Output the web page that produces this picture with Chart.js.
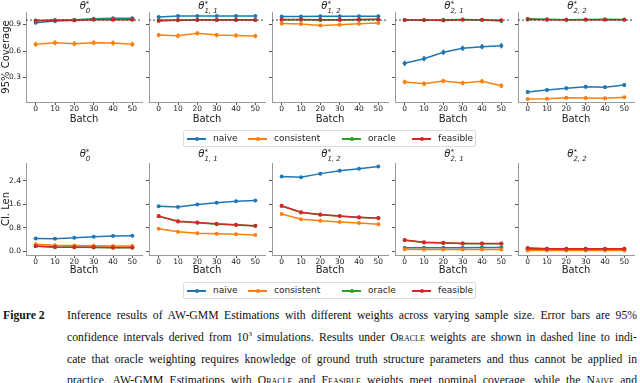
<!DOCTYPE html>
<html>
<head>
<meta charset="utf-8">
<script src="https://cdn.jsdelivr.net/npm/chart.js@4.4.1/dist/chart.umd.min.js"></script>
<style>
  body { margin: 0; width: 640px; height: 383px; overflow: hidden; background: #fff; position: relative; font-family: 'DejaVu Sans', sans-serif; color: #222; }
  canvas.pl { position: absolute; }
  .ttl { position: absolute; transform: translateX(-50%); font-size: 10px; line-height: 12px; white-space: nowrap; }
  .ttl i { font-family: 'DejaVu Sans'; }
  .ss { display: inline-block; vertical-align: -4px; font-size: 7px; line-height: 7px; font-style: italic; }
  .ss span { display: block; }
  .legend { position: absolute; left: 183px; width: 291px; height: 15px; border: 1px solid #ddd; border-radius: 2px; font-size: 9px; }
  .item { position: absolute; top: 0; height: 15px; line-height: 15px; white-space: nowrap; }
  .sw { position: absolute; top: 7px; width: 19px; height: 1.5px; }
  .sw b { position: absolute; left: 7.5px; top: -1.5px; width: 4px; height: 4px; border-radius: 2px; background: inherit; }
  .item span.t { position: absolute; left: 26px; top: 0; }
  .cap { position: absolute; left: 0; top: 0; font-family: 'Liberation Serif', serif; font-size: 11.7px; color: #111; }
  .fig { position: absolute; left: 3px; font-weight: bold; white-space: nowrap; }
  .ln { position: absolute; left: 67px; width: 570px; text-align: justify; text-align-last: justify; }
  .sc { font-variant: small-caps; }
</style>
</head>
<body>
<script>
// data
const batches = [0, 10, 20, 30, 40, 50];
const panelSubs = ['0', '1, 1', '1, 2', '2, 1', '2, 2'];
const nominal = 0.95;

const covTicks = [0.3, 0.6, 0.9];
const lenTicks = [0.0, 0.8, 1.6, 2.4];

// 95% coverage, one row per panel
const covNaive = [
  [0.92, 0.94, 0.95, 0.966, 0.97, 0.97],
  [0.985, 0.997, 0.998, 0.998, 0.998, 0.998],
  [0.99, 0.99, 0.995, 0.995, 0.995, 0.995],
  [0.46, 0.513, 0.585, 0.63, 0.649, 0.66],
  [0.136, 0.158, 0.178, 0.196, 0.19, 0.215]
];
const covConsistent = [
  [0.676, 0.694, 0.683, 0.694, 0.69, 0.676],
  [0.78, 0.773, 0.80, 0.78, 0.775, 0.77],
  [0.913, 0.905, 0.89, 0.898, 0.91, 0.917],
  [0.249, 0.23, 0.26, 0.237, 0.257, 0.207],
  [0.056, 0.058, 0.071, 0.068, 0.064, 0.075]
];
const covOracle = [
  [0.945, 0.95, 0.955, 0.96, 0.96, 0.96],
  [0.95, 0.952, 0.955, 0.952, 0.953, 0.952],
  [0.955, 0.953, 0.95, 0.952, 0.955, 0.957],
  [0.95, 0.948, 0.955, 0.958, 0.952, 0.94],
  [0.965, 0.96, 0.955, 0.957, 0.96, 0.958]
];
const covFeasible = [
  [0.943, 0.945, 0.945, 0.955, 0.955, 0.955],
  [0.94, 0.948, 0.95, 0.95, 0.95, 0.95],
  [0.958, 0.957, 0.955, 0.955, 0.957, 0.96],
  [0.95, 0.95, 0.945, 0.955, 0.955, 0.948],
  [0.958, 0.955, 0.953, 0.955, 0.955, 0.955]
];
// half widths of the 95% error bars, one per panel
const covNaiveErr = [0.014, 0.008, 0.008, 0.03, 0.022];
const covConsistentErr = [0.028, 0.025, 0.017, 0.026, 0.014];
const covOracleErr = [0.012, 0.012, 0.012, 0.012, 0.012];
const covFeasibleErr = [0.012, 0.012, 0.012, 0.012, 0.012];

// CI length
const lenNaive = [
  [0.43, 0.42, 0.455, 0.49, 0.51, 0.52],
  [1.535, 1.51, 1.59, 1.65, 1.70, 1.73],
  [2.55, 2.525, 2.65, 2.75, 2.82, 2.89],
  [0.115, 0.11, 0.11, 0.11, 0.12, 0.12],
  [0.06, 0.055, 0.055, 0.055, 0.055, 0.055]
];
const lenConsistent = [
  [0.23, 0.20, 0.19, 0.18, 0.17, 0.17],
  [0.76, 0.66, 0.61, 0.59, 0.57, 0.55],
  [1.27, 1.09, 1.035, 0.99, 0.955, 0.92],
  [0.06, 0.05, 0.05, 0.05, 0.05, 0.05],
  [0.02, 0.015, 0.015, 0.015, 0.015, 0.015]
];
const lenOracle = [
  [0.16, 0.13, 0.125, 0.12, 0.115, 0.115],
  [1.19, 1.01, 0.97, 0.92, 0.89, 0.86],
  [1.54, 1.32, 1.24, 1.19, 1.15, 1.12],
  [0.37, 0.295, 0.275, 0.26, 0.25, 0.25],
  [0.095, 0.078, 0.073, 0.073, 0.073, 0.073]
];
const lenFeasible = [
  [0.17, 0.14, 0.13, 0.13, 0.12, 0.12],
  [1.195, 1.02, 0.98, 0.93, 0.90, 0.865],
  [1.55, 1.33, 1.25, 1.195, 1.16, 1.126],
  [0.375, 0.30, 0.28, 0.26, 0.255, 0.255],
  [0.10, 0.08, 0.075, 0.075, 0.075, 0.075]
];

const seriesNames = ['naive', 'consistent', 'oracle', 'feasible'];
const seriesColors = ['#1f77b4', '#ff7f0e', '#2ca02c', '#d62728'];

// layout of the grid (page px)
const plotLefts = [26, 149, 272, 395, 518];
const plotW = 118;
const axisW = 26;

const errBars = {
  id: 'errBars',
  afterDatasetDraw(chart, args) {
    const ds = chart.data.datasets[args.index];
    if (!ds.err) return;
    const ctx = chart.ctx, x = chart.scales.x, y = chart.scales.y;
    ctx.save();
    ctx.strokeStyle = ds.borderColor;
    ctx.lineWidth = 1.5;
    ds.data.forEach(p => {
      const px = x.getPixelForValue(p.x);
      ctx.beginPath();
      ctx.moveTo(px, y.getPixelForValue(p.y - ds.err));
      ctx.lineTo(px, y.getPixelForValue(p.y + ds.err));
      ctx.stroke();
    });
    ctx.restore();
  }
};

const refLine = {
  id: 'refLine',
  afterDatasetsDraw(chart, args, opts) {
    if (opts.value == null) return;
    const ctx = chart.ctx, a = chart.chartArea;
    const py = chart.scales.y.getPixelForValue(opts.value);
    ctx.save();
    ctx.strokeStyle = '#444';
    ctx.lineWidth = 1;
    ctx.setLineDash([2, 2]);
    ctx.beginPath();
    ctx.moveTo(a.left, py);
    ctx.lineTo(a.right, py);
    ctx.stroke();
    ctx.restore();
  }
};

function addTitle(sub, cx, top) {
  const d = document.createElement('div');
  d.className = 'ttl';
  d.style.left = cx + 'px';
  d.style.top = top + 'px';
  d.innerHTML = '<i>θ</i><span class="ss"><span>*</span><span>' + sub + '</span></span>';
  document.body.appendChild(d);
}

function makePanel(row, i) {
  const top = row === 0 ? 0 : 150;
  const padTop = row === 0 ? 12 : 13;
  const h = row === 0 ? 125 : 126;
  const xH = row === 0 ? 23 : 21;
  const vals = row === 0
    ? [covNaive, covConsistent, covOracle, covFeasible]
    : [lenNaive, lenConsistent, lenOracle, lenFeasible];
  const errs = [covNaiveErr, covConsistentErr, covOracleErr, covFeasibleErr];

  const cv = document.createElement('canvas');
  cv.className = 'pl';
  cv.width = axisW + plotW + 2;
  cv.height = h;
  cv.style.left = (plotLefts[i] - axisW) + 'px';
  cv.style.top = top + 'px';
  document.body.appendChild(cv);

  addTitle(panelSubs[i], plotLefts[i] + plotW / 2, row === 0 ? 0 : 148);

  const datasets = seriesNames.map((name, k) => ({
    label: name,
    data: batches.map((b, j) => ({ x: b, y: vals[k][i][j] })),
    borderColor: seriesColors[k],
    backgroundColor: seriesColors[k],
    borderWidth: 1.5,
    pointRadius: 2,
    pointBorderWidth: 0,
    tension: 0,
    order: 4 - k,
    err: row === 0 ? errs[k][i] : null
  }));

  const tickFont = { family: 'DejaVu Sans', size: 7.5 };
  const labFont = { family: 'DejaVu Sans', size: 10 };

  new Chart(cv.getContext('2d'), {
    type: 'line',
    data: { datasets },
    options: {
      responsive: false,
      animation: false,
      devicePixelRatio: 1,
      layout: { padding: { top: padTop, right: 2, left: 0, bottom: 0 } },
      plugins: {
        legend: { display: false },
        tooltip: { enabled: false },
        refLine: { value: row === 0 ? nominal : null }
      },
      scales: {
        x: {
          type: 'linear',
          min: -5, max: 55,
          afterBuildTicks: s => { s.ticks = batches.map(v => ({ value: v })); },
          afterFit: s => { s.height = xH; },
          grid: { drawOnChartArea: false, tickLength: 3, color: '#555' },
          border: { color: '#999', width: 1 },
          ticks: { font: tickFont, color: '#222', padding: 0, maxRotation: 0 },
          title: { display: true, text: 'Batch', font: labFont, color: '#222', padding: 0 }
        },
        y: {
          type: 'linear',
          min: row === 0 ? 0.022 : -0.137,
          max: row === 0 ? 1.042 : 3.014,
          afterBuildTicks: s => { s.ticks = (row === 0 ? covTicks : lenTicks).map(v => ({ value: v })); },
          afterFit: s => { s.width = axisW; },
          grid: { drawOnChartArea: false, tickLength: 3, color: '#555' },
          border: { color: '#999', width: 1 },
          ticks: {
            font: tickFont, color: '#222', padding: 2,
            callback: v => i === 0 ? v.toFixed(1) : ''
          },
          title: {
            display: i === 0,
            text: row === 0 ? '95% Coverage' : 'CI. Len',
            font: labFont, color: '#222', padding: 0
          }
        }
      }
    },
    plugins: [errBars, refLine]
  });
}

for (let r = 0; r < 2; r++) for (let i = 0; i < 5; i++) makePanel(r, i);

// legends
const legendItemX = [3, 64, 158, 228];
[130, 282].forEach(t => {
  const lg = document.createElement('div');
  lg.className = 'legend';
  lg.style.top = t + 'px';
  seriesNames.forEach((name, k) => {
    const it = document.createElement('div');
    it.className = 'item';
    it.style.left = legendItemX[k] + 'px';
    it.innerHTML = '<span class="sw" style="background:' + seriesColors[k] + '"><b></b></span><span class="t">' + name + '</span>';
    lg.appendChild(it);
  });
  document.body.appendChild(lg);
});
</script>
<div class="cap">
  <div class="fig" style="top:309px">Figure 2</div>
  <div class="ln" style="top:309px">Inference results of AW-GMM Estimations with different weights across varying sample size. Error bars are 95%</div>
  <div class="ln" style="top:331px">confidence intervals derived from 10<sup style="font-size:7px;line-height:0">3</sup> simulations. Results under <span class="sc">Oracle</span> weights are shown in dashed line to indi-</div>
  <div class="ln" style="top:353px">cate that oracle weighting requires knowledge of ground truth structure parameters and thus cannot be applied in</div>
  <div class="ln" style="top:374px">practice. AW-GMM Estimations with <span class="sc">Oracle</span> and <span class="sc">Feasible</span> weights meet nominal coverage, while the <span class="sc">Naive</span> and</div>
</div>
</body>
</html>
